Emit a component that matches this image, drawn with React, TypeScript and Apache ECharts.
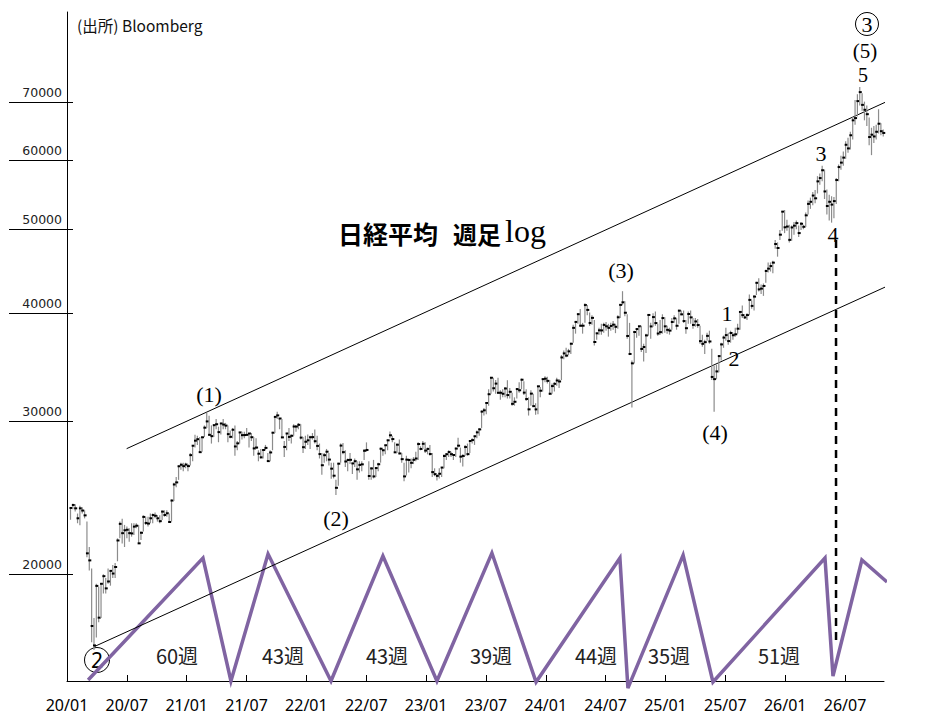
import React, { useEffect, useRef } from 'react';
import * as echarts from 'echarts';

// ---------- tick labels ----------
const xTickLabels = ['20/01', '20/07', '21/01', '21/07', '22/01', '22/07', '23/01', '23/07', '24/01', '24/07', '25/01', '25/07', '26/01', '26/07'];
const yTickValues = [20000, 30000, 40000, 50000, 60000, 70000];

// ---------- weekly bars: [close, high, low] (one row per week, from the week of 2020/01/06) ----------
const w2020 = [
  [23850, 23903, 23115], [24041, 24115, 23764], [23827, 24083, 23620], [23205, 23500, 22900],
  [23827, 23995, 22775], [23687, 23900, 23500], [23386, 23700, 23200], [21142, 23000, 20916],
  [20749, 21500, 20200], [17431, 20300, 16690], [16553, 17800, 16358], [19389, 19500, 16900],
  [17820, 19340, 17600], [19498, 19500, 17800], [19897, 20000, 19000], [19262, 19800, 19000],
  [19619, 20300, 19500], [20179, 20200, 19400], [20037, 20500, 19800], [20388, 20600, 19800],
  [21877, 22000, 20700], [22863, 23000, 22000], [22305, 23180, 21700], [22478, 22800, 21500],
  [22512, 22700, 22000], [22306, 22600, 21800], [22290, 22900, 22100], [22696, 22900, 22200],
  [22751, 22900, 22600], [21710, 22800, 21700], [22329, 22400, 21900], [23289, 23400, 22400],
  [22920, 23300, 22800], [22882, 23300, 22700], [23205, 23500, 22900], [23406, 23500, 22900],
  [23360, 23560, 23200], [23204, 23400, 23000], [23029, 23400, 22900], [23619, 23700, 23100],
  [23410, 23700, 23300], [23516, 23700, 23300], [22977, 23500, 22950], [24325, 24400, 23000],
  [25385, 25500, 24300], [25527, 25900, 25200], [26644, 26700, 25700], [26751, 26900, 26400],
  [26652, 26900, 26300], [26763, 26900, 26500], [26656, 26800, 26300], [27444, 27600, 26700],
];
const w2021 = [
  [28139, 28200, 27000], [28519, 28980, 28000], [28631, 28900, 28200], [27663, 28800, 27600],
  [28779, 28800, 27700], [29520, 29700, 28800], [30017, 30714, 29500], [28966, 30467, 28900],
  [28864, 29700, 28300], [29717, 29800, 28800], [29792, 30200, 29400], [29176, 29600, 28400],
  [29854, 29900, 29000], [29768, 30200, 29400], [29683, 29900, 29400], [29020, 29700, 28400],
  [28812, 29300, 28700], [29357, 29500, 28700], [28084, 29700, 27400], [28317, 28500, 27800],
  [29149, 29200, 28300], [28941, 29200, 28600], [28948, 29200, 28700], [28964, 29500, 28900],
  [29066, 29100, 28000], [28783, 29100, 28500], [27940, 28800, 27400], [28003, 28700, 27900],
  [27548, 27800, 27000], [27284, 27900, 27200], [27820, 27900, 27200], [27977, 28200, 27800],
  [27013, 27600, 26950], [27641, 27800, 27000], [29128, 29200, 27800], [30381, 30400, 29100],
  [30500, 30795, 30200], [30249, 30300, 29400], [28771, 30200, 28700], [28049, 28500, 27300],
  [29069, 29100, 27800], [28805, 29500, 28500], [28893, 29000, 28300], [29612, 29800, 28900],
  [29610, 29700, 29200], [29746, 29900, 29400], [28752, 29800, 28600], [28030, 28800, 27600],
  [28438, 28900, 27900], [28546, 29000, 28200], [28782, 28900, 27900], [28792, 29100, 28600],
];
const w2022 = [
  [28479, 29388, 28300], [28124, 28900, 27800], [27522, 28300, 27200], [26717, 27600, 26044],
  [27440, 27600, 26900], [27696, 27900, 27000], [27122, 27600, 26700], [26476, 26900, 25775],
  [25985, 26900, 25800], [25162, 25700, 24681], [26827, 26900, 25300], [28149, 28300, 26900],
  [27665, 28338, 27500], [26985, 27800, 26600], [27093, 27200, 26300], [27105, 27600, 26800],
  [26848, 26900, 26100], [27003, 27200, 26600], [26427, 27000, 25700], [26739, 27000, 26200],
  [26782, 27000, 26300], [27762, 27900, 27100], [27824, 28390, 27700], [25963, 27000, 25700],
  [26491, 26600, 25700], [25936, 27100, 25800], [26518, 26600, 25900], [26788, 26900, 26300],
  [27915, 28000, 26900], [27801, 27900, 27400], [28176, 28200, 27500], [28546, 28600, 27800],
  [28930, 29222, 28700], [28641, 28900, 28400], [27650, 28400, 27600], [28214, 28300, 27600],
  [27567, 28600, 27500], [27153, 27600, 26900], [25937, 26900, 25600], [27116, 27400, 26000],
  [27090, 27200, 26200], [26890, 27200, 26500], [27105, 27300, 26800], [27199, 27700, 27000],
  [28263, 28400, 27100], [27899, 28100, 27800], [28283, 28500, 27900], [27777, 28400, 27600],
  [27901, 28000, 27500], [27527, 28200, 27400], [26235, 27600, 25900], [26094, 26500, 25950],
];
const w2023 = [
  [25973, 26100, 25661], [26119, 26500, 25800], [26553, 26600, 25900], [27382, 27500, 26500],
  [27509, 27600, 27100], [27670, 27800, 27300], [27513, 27700, 27300], [27453, 27500, 27100],
  [27927, 28000, 27300], [28143, 28734, 28000], [27333, 28000, 26900], [27385, 27500, 26632],
  [28041, 28200, 27400], [27518, 28300, 27400], [28493, 28500, 27600], [28564, 28700, 28300],
  [28856, 28900, 28200], [29157, 29300, 28700], [29388, 29500, 28900], [30808, 30900, 29500],
  [30916, 31100, 30500], [31524, 31600, 30600], [32265, 32700, 31300], [33706, 33800, 32300],
  [32781, 33700, 32500], [33189, 33500, 32300], [32388, 33700, 32300], [32391, 32600, 31800],
  [32304, 32700, 32000], [32759, 32900, 32000], [32193, 33488, 31900], [32473, 32800, 31900],
  [31450, 32400, 31300], [31624, 32000, 31300], [32710, 32800, 31900], [32606, 33300, 32400],
  [33533, 33634, 32700], [32402, 33400, 32200], [31857, 32700, 31700], [30994, 32000, 30487],
  [32315, 32600, 31300], [31259, 32300, 31200], [30991, 31500, 30551], [32949, 33000, 30600],
  [32568, 32900, 32000], [33585, 33600, 32500], [33625, 33853, 33300], [33431, 33800, 33200],
  [32307, 33500, 32200], [32970, 33200, 32300], [33169, 33300, 32500], [33464, 33700, 33000],
];
const w2024 = [
  [33377, 33600, 32800], [35577, 35800, 33500], [35963, 36239, 35400], [35751, 36500, 35600],
  [36158, 36400, 35800], [36897, 37000, 35900], [38487, 38800, 37000], [39098, 39200, 37900],
  [39910, 40000, 38900], [38707, 40472, 38600], [38708, 39000, 37900], [40888, 41087, 39000],
  [40369, 40900, 39800], [38992, 40100, 38700], [39523, 39800, 38800], [37068, 39300, 36733],
  [37934, 38000, 37300], [38236, 38500, 37800], [38229, 38900, 37800], [38787, 39000, 38000],
  [38646, 39100, 38200], [38487, 38900, 37600], [38683, 39000, 38200], [38814, 39200, 38300],
  [38596, 38900, 37950], [39583, 39800, 38400], [40912, 41000, 39500], [41190, 42426, 40900],
  [40063, 41300, 39700], [37667, 39900, 37400], [35909, 39000, 35800], [35025, 35300, 31156],
  [38062, 38200, 35000], [38364, 38400, 37500], [38648, 38700, 37700], [36391, 38700, 36100],
  [36581, 36900, 35200], [37724, 37900, 36000], [39830, 39900, 37700], [38635, 39000, 37400],
  [39605, 40000, 38600], [38981, 40200, 38700], [37914, 38900, 37700], [38054, 39300, 37800],
  [39500, 39900, 37900], [38642, 39600, 38000], [38284, 38700, 37900], [38208, 38500, 37800],
  [39091, 39500, 38300], [39470, 39800, 39000], [38702, 39500, 38300], [40281, 40400, 38900],
  [39894, 40300, 39800],
];
const w2025 = [
  [39190, 40300, 39000], [38451, 39300, 37900], [39931, 40200, 38900], [39572, 40300, 38900],
  [38787, 39500, 38400], [39149, 39500, 38600], [38776, 39400, 38500], [37155, 38700, 36900],
  [36887, 37800, 36600], [37053, 37300, 35900], [37677, 38000, 37200], [37120, 38200, 36900],
  [33781, 36400, 33500], [33586, 34800, 30792], [34280, 34900, 33600], [35705, 35800, 34200],
  [36830, 37000, 35300], [37503, 37700, 36500], [37753, 38500, 37200], [37160, 38000, 36800],
  [37965, 38200, 37000], [37741, 38000, 37300], [37834, 38500, 37600], [38403, 38900, 37900],
  [40150, 40200, 38300], [39811, 40850, 39500], [39570, 39900, 39400], [39819, 40000, 39300],
  [41456, 42065, 39800], [40799, 41400, 40500], [41820, 42000, 40300], [43378, 43500, 42000],
  [42633, 43900, 42400], [42718, 43200, 42100], [43018, 43300, 41900], [44768, 44900, 43400],
  [45045, 45800, 44600], [45354, 45800, 44700], [45769, 46000, 44500], [48088, 48600, 47500],
  [47582, 48300, 46500], [49299, 49900, 48600], [52411, 52500, 49800], [50276, 52636, 49500],
  [50376, 51300, 49800], [48625, 50600, 48300], [50253, 50500, 48500], [50491, 51000, 49300],
  [50836, 51200, 50000], [49507, 50500, 49000], [50750, 51000, 49900], [50340, 50600, 50000],
];
const w2026 = [
  [51900, 52300, 50300], [53500, 54000, 52000], [53800, 54400, 52800], [54700, 55200, 53300],
  [54300, 55500, 53600], [56800, 57600, 55000], [57300, 58000, 56300], [58500, 59200, 56800],
  [55300, 58600, 54200], [53200, 55600, 52000], [53800, 54800, 51200], [53400, 54600, 50900],
  [53900, 54500, 51500], [57000, 57300, 53500], [59000, 59400, 56800], [59700, 60800, 58600],
  [60500, 61500, 59200], [62600, 63200, 60300], [62000, 63800, 61300], [64200, 64800, 61800],
  [66800, 67400, 63500], [67200, 70500, 66000], [70300, 71600, 67500], [72000, 73000, 69500],
  [69600, 71800, 68500], [68700, 70200, 66800], [67900, 69500, 65800], [63900, 67300, 62500],
  [64300, 65500, 60900], [64000, 65800, 62900], [64800, 66000, 63500], [66200, 68800, 64500],
  [64900, 66300, 64200], [64600, 65200, 64000],
];

// ---------- overlays (week index, value) ----------
const upperChannelWeeks = [23.9, 364.5];
const upperChannelValues = [27920, 73700];
const lowerChannelWeeks = [10.1, 357.4];
const lowerChannelValues = [16500, 44200];
const cycleWeeks = [7.5, 56.4, 68.3, 84.1, 110.9, 133.0, 156.0, 179.4, 198.2, 233.9, 237.3, 260.8, 273.5, 321.2, 324.6, 336.9, 347.6];
const cycleValues = [15100, 20880, 15060, 21100, 15060, 20990, 15060, 21160, 15020, 20880, 14780, 21040, 15020, 20880, 15260, 20770, 19590];
const dashWeeks = [325.9, 325.9];
const dashValues = [48600, 16790];
const cycleLabels = ['60週', '43週', '43週', '39週', '44週', '35週', '51週'];
const cycleLabelX = [177, 283, 387, 491, 596, 669, 779];

// ---------- layout ----------
const X_MIN = -1.49;
const X_STEP = 25.479;
const X_MAX = 346.32;
const Y_MIN = Math.log(15060);
const Y_MAX = Math.log(89080);
const GRID_RECT = { left: 67, top: 12, width: 817, height: 669, containLabel: false };

const weeks = [...w2020, ...w2021, ...w2022, ...w2023, ...w2024, ...w2025, ...w2026];
const barData = weeks.map(([c, h, l], i) => [i, Math.log(l), Math.log(h), Math.log(c)]);
const xTickPos = xTickLabels.map((_, k) => X_MIN + X_STEP * k);
const yTickPos = yTickValues.map((v) => Math.log(v));
const pairs = (xs: number[], vs: number[]) => xs.map((x, i) => [x, Math.log(vs[i])]);

const serif = "'Liberation Serif', 'DejaVu Serif', serif";
const annotations: any[] = [
  { t: '(1)', x: 209, y: 394, s: 22 },
  { t: '(2)', x: 336, y: 518, s: 22 },
  { t: '(3)', x: 621, y: 270, s: 22 },
  { t: '(4)', x: 715, y: 432, s: 22 },
  { t: '(5)', x: 865, y: 51, s: 21 },
  { t: '1', x: 727, y: 313, s: 22 },
  { t: '2', x: 734, y: 358, s: 22 },
  { t: '3', x: 821, y: 153, s: 22 },
  { t: '4', x: 833, y: 234, s: 22 },
  { t: '5', x: 863, y: 75, s: 20 },
  { t: '3', x: 867, y: 24, s: 22 },
];

function buildOption(): any {
  const graphic: any[] = [
    {
      type: 'text', x: 77, y: 25, silent: true,
      style: { text: '(出所) Bloomberg', fontSize: 15.5, fontFamily: "'Noto Sans CJK JP', 'Noto Sans', sans-serif", fill: '#111', align: 'left', verticalAlign: 'middle' },
    },
    {
      type: 'text', x: 338, y: 233, silent: true,
      style: { text: '日経平均', fontSize: 25, fontWeight: 'bold', fontFamily: "'Noto Sans CJK JP', sans-serif", fill: '#000', align: 'left', verticalAlign: 'middle' },
    },
    {
      type: 'text', x: 453, y: 233, silent: true,
      style: { text: '週足', fontSize: 24, fontWeight: 'bold', fontFamily: "'Noto Sans CJK JP', sans-serif", fill: '#000', align: 'left', verticalAlign: 'middle' },
    },
    {
      type: 'text', x: 505, y: 231, silent: true,
      style: { text: 'log', fontSize: 32, fontFamily: serif, fill: '#000', align: 'left', verticalAlign: 'middle' },
    },
    { type: 'circle', silent: true, shape: { cx: 867, cy: 24, r: 11.5 }, style: { fill: 'none', stroke: '#000', lineWidth: 1 } },
    { type: 'circle', silent: true, shape: { cx: 97, cy: 660, r: 12.5 }, style: { fill: 'rgba(255,255,255,0)', stroke: '#000', lineWidth: 1 } },
    {
      type: 'text', x: 97, y: 660, silent: true,
      style: { text: '2', fontSize: 21, fontFamily: "'Noto Sans', sans-serif", fill: '#000', align: 'center', verticalAlign: 'middle' },
    },
  ];
  annotations.forEach((a) => {
    graphic.push({
      type: 'text', x: a.x, y: a.y, silent: true,
      style: { text: a.t, fontSize: a.s, fontFamily: serif, fill: '#000', align: 'center', verticalAlign: 'middle' },
    });
  });
  cycleLabels.forEach((t, i) => {
    graphic.push({
      type: 'text', x: cycleLabelX[i], y: 655, silent: true,
      style: { text: t, fontSize: 20, fontFamily: "'Noto Sans CJK JP', sans-serif", fill: '#222', align: 'center', verticalAlign: 'middle' },
    });
  });

  return {
    animation: false,
    backgroundColor: '#fff',
    grid: [GRID_RECT, { ...GRID_RECT }],
    xAxis: [
      {
        type: 'value', gridIndex: 0, min: X_MIN, max: X_MAX,
        axisLine: { show: true, onZero: false, lineStyle: { color: '#000', width: 1 } },
        axisTick: { show: true, inside: true, length: 6, customValues: xTickPos, lineStyle: { color: '#000' } },
        axisLabel: {
          customValues: xTickPos,
          formatter: (v: number) => xTickLabels[Math.round((v - X_MIN) / X_STEP)] ?? '',
          fontSize: 16, fontFamily: "'Noto Sans', sans-serif", color: '#000', margin: 16,
        },
        splitLine: { show: false },
      },
      {
        type: 'value', gridIndex: 1, min: X_MIN, max: X_MAX, show: false,
      },
    ],
    yAxis: [
      {
        type: 'value', gridIndex: 0, position: 'left', min: Y_MIN, max: Y_MAX,
        axisLine: { show: true, onZero: false, lineStyle: { color: '#000', width: 1 } },
        axisTick: { show: true, length: 58, customValues: yTickPos, lineStyle: { color: '#000' } },
        axisLabel: {
          customValues: yTickPos,
          formatter: (v: number) => String(Math.round(Math.exp(v))),
          fontSize: 12.5, fontFamily: "'DejaVu Sans', sans-serif", color: '#222',
          margin: 5, verticalAlign: 'bottom', lineHeight: 20,
        },
        splitLine: { show: false },
      },
      {
        type: 'value', gridIndex: 1, position: 'left', min: Y_MIN, max: Y_MAX,
        axisLine: { show: false, onZero: false },
        axisTick: { show: true, inside: true, length: 6, customValues: yTickPos, lineStyle: { color: '#000' } },
        axisLabel: { show: false },
        splitLine: { show: false },
      },
    ],
    series: [
      {
        type: 'line', name: 'cycle', data: pairs(cycleWeeks, cycleValues), symbol: 'none', clip: false, silent: true, z: 1,
        lineStyle: { color: '#8064a2', width: 3.5, join: 'miter' },
      },
      {
        type: 'line', name: 'upper', data: pairs(upperChannelWeeks, upperChannelValues), symbol: 'none', clip: false, silent: true, z: 2,
        lineStyle: { color: '#000', width: 1 },
      },
      {
        type: 'line', name: 'lower', data: pairs(lowerChannelWeeks, lowerChannelValues), symbol: 'none', clip: false, silent: true, z: 2,
        lineStyle: { color: '#000', width: 1 },
      },
      {
        type: 'line', name: 'dash', data: pairs(dashWeeks, dashValues), symbol: 'none', clip: false, silent: true, z: 2,
        lineStyle: { color: '#000', width: 2.5, type: [8, 6] },
      },
      {
        type: 'custom', name: 'nikkei', data: barData, silent: true, z: 3,
        encode: { x: 0, y: [1, 2, 3] },
        renderItem: (_params: any, api: any) => {
          const x = api.value(0);
          const lo = api.coord([x, api.value(1)]);
          const hi = api.coord([x, api.value(2)]);
          const cl = api.coord([x, api.value(3)]);
          return {
            type: 'group',
            children: [
              { type: 'line', shape: { x1: lo[0], y1: lo[1], x2: hi[0], y2: hi[1] }, style: { stroke: '#8c8c8c', lineWidth: 1.2 } },
              { type: 'rect', shape: { x: cl[0] - 1, y: cl[1] - 1, width: 3, height: 2 }, style: { fill: '#000' } },
            ],
          };
        },
      },
    ],
    graphic,
  };
}

export default function App() {
  const ref = useRef<HTMLDivElement>(null);
  useEffect(() => {
    if (!ref.current) return;
    const chart = echarts.init(ref.current, null, { renderer: 'svg' });
    chart.setOption(buildOption());
    return () => chart.dispose();
  }, []);
  return <div ref={ref} style={{ position: 'absolute', left: 0, top: 0, width: 945, height: 722, background: '#fff' }} />;
}
